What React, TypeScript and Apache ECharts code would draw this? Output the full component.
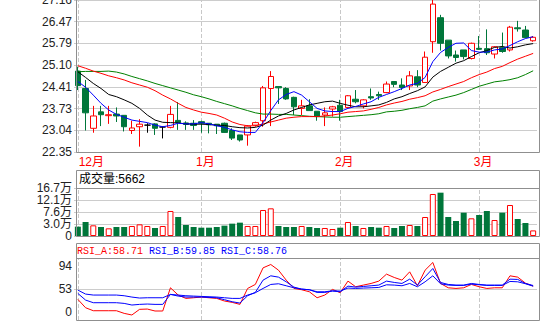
import React, { useEffect, useRef } from 'react';
import * as echarts from 'echarts';

// ---- data ----
const MONTH_STARTS = [0, 16, 34, 52];
const MONTH_LABELS = ['12月', '1月', '2月', '3月'];

const OPEN = [24.91,24.36,23.10,23.62,23.50,23.55,23.51,23.03,23.15,23.20,23.24,23.14,23.13,23.35,23.27,23.26,23.31,23.26,23.23,23.26,23.03,22.89,22.89,23.20,23.34,24.36,24.42,24.36,24.08,23.73,23.81,23.64,23.52,23.71,23.83,23.76,24.02,23.81,24.10,24.17,24.23,24.58,24.47,24.44,24.73,24.55,25.84,26.60,25.89,25.42,25.58,25.31,25.63,25.62,25.45,25.65,25.58,26.28,26.21,25.87];
const CLOSE = [24.45,23.59,23.49,23.53,23.53,23.49,23.15,23.11,23.23,23.20,23.10,23.14,23.54,23.28,23.22,23.19,23.26,23.21,23.18,22.97,22.79,22.73,23.17,23.28,24.38,24.74,24.38,24.03,23.78,23.81,23.66,23.47,23.59,23.78,23.63,24.13,23.94,24.00,24.06,24.13,24.50,24.49,24.39,24.76,24.47,25.35,27.03,25.79,25.39,25.34,25.37,25.79,25.60,25.49,25.68,25.53,26.30,26.25,25.97,25.98];
const LOW = [24.31,23.03,22.96,23.17,23.24,23.30,23.00,22.92,22.52,22.96,22.89,22.78,23.10,23.05,23.05,23.05,22.96,22.94,22.92,22.96,22.73,22.68,22.55,23.15,23.15,23.17,23.87,24.00,23.52,23.52,23.66,23.34,23.17,23.47,23.34,23.73,23.89,23.73,24.00,24.00,24.21,24.40,24.31,24.31,24.40,24.55,25.49,25.56,25.31,25.21,25.28,25.28,25.58,25.42,25.31,25.49,25.53,26.16,25.95,25.84];
const HIGH = [25.05,24.63,23.81,23.81,23.81,23.76,23.52,23.34,23.39,23.26,23.26,23.15,23.81,23.93,23.32,23.36,23.34,23.26,23.23,23.28,23.10,22.89,23.20,23.31,24.44,24.91,24.42,24.40,24.10,24.00,24.02,23.64,23.76,23.81,24.00,24.15,24.31,24.02,24.36,24.26,24.58,24.58,24.68,24.91,24.94,25.53,27.20,26.69,25.89,25.56,25.58,25.81,26.02,26.23,25.70,26.13,26.34,26.50,26.34,26.02];

const MA5 = [24.58,24.40,24.15,23.89,23.68,23.54,23.45,23.36,23.32,23.28,23.20,23.15,23.19,23.26,23.24,23.24,23.28,23.24,23.18,23.13,23.05,22.99,22.97,22.97,23.28,23.66,24.00,24.17,24.26,24.15,23.94,23.73,23.65,23.63,23.63,23.73,23.79,23.87,23.94,24.08,24.17,24.26,24.36,24.47,24.52,24.71,25.21,25.50,25.66,25.79,25.80,25.56,25.51,25.51,25.58,25.61,25.72,25.84,25.94,26.00];
const MA10 = [24.89,24.71,24.52,24.36,24.17,24.10,24.00,23.89,23.73,23.52,23.36,23.29,23.28,23.27,23.24,23.23,23.23,23.22,23.20,23.19,23.15,23.12,23.11,23.13,23.20,23.36,23.49,23.57,23.68,23.76,23.84,23.89,23.94,23.96,23.89,23.83,23.78,23.78,23.81,23.84,23.92,24.03,24.10,24.20,24.29,24.41,24.72,24.90,25.03,25.16,25.24,25.37,25.49,25.56,25.66,25.69,25.64,25.68,25.74,25.78];
const MA20 = [25.08,25.00,24.91,24.84,24.76,24.70,24.63,24.54,24.47,24.40,24.29,24.15,24.03,23.89,23.76,23.68,23.61,23.57,23.52,23.42,23.30,23.22,23.18,23.18,23.24,23.30,23.36,23.42,23.45,23.47,23.47,23.47,23.49,23.52,23.56,23.61,23.63,23.65,23.70,23.76,23.84,23.90,23.95,24.02,24.07,24.13,24.25,24.33,24.42,24.50,24.58,24.70,24.80,24.88,24.99,25.06,25.18,25.29,25.38,25.47];
const MA30 = [24.89,24.90,24.90,24.90,24.91,24.88,24.82,24.74,24.67,24.60,24.52,24.45,24.38,24.31,24.24,24.16,24.10,24.03,23.95,23.88,23.81,23.73,23.66,23.59,23.55,23.55,23.54,23.54,23.52,23.50,23.48,23.47,23.46,23.45,23.45,23.47,23.49,23.51,23.53,23.56,23.62,23.64,23.67,23.72,23.76,23.81,23.96,24.03,24.09,24.15,24.23,24.33,24.43,24.50,24.57,24.60,24.64,24.70,24.80,24.92];

const VOLUME = [19900,37600,24900,18600,13500,18600,18600,22400,28700,22400,14800,22400,79500,56600,26200,18600,16000,16000,18600,23700,31300,35100,22400,22400,83300,89600,22400,18600,18600,22400,18600,14800,14800,11000,16000,37600,22400,14800,18600,16000,22400,14800,22400,26200,22400,56600,144200,149200,56600,41400,73100,51600,64300,79500,45200,73100,102300,49000,33800,5662];

const RSI_A = [35.8,21.3,16.1,16.1,16.1,16.1,11.5,8.7,18.5,19.0,15.6,15.6,55.9,43.3,37.5,38.6,39.8,38.6,37.5,32.9,30.6,27.1,54.8,61.7,90.5,96.3,86.5,69.2,54.8,52.5,49.0,38.6,43.3,53.1,47.3,67.5,57.7,60.6,63.4,67.5,79.6,73.8,69.2,83.6,59.4,86.5,99.8,63.4,55.9,54.8,55.9,61.7,57.7,54.8,55.9,55.9,76.7,74.4,64.0,58.71];
const RSI_B = [46.1,34.6,30.0,30.0,30.0,30.0,28.8,26.0,27.1,27.7,27.1,27.1,44.4,41.5,39.8,39.8,39.8,39.2,38.6,35.2,31.7,29.4,42.1,47.9,69.2,76.7,74.4,66.3,57.1,53.6,52.5,47.9,47.9,50.2,49.0,58.8,57.1,58.2,59.4,60.6,67.5,65.2,63.4,70.9,60.6,75.0,89.4,65.2,61.7,60.6,60.6,63.4,61.7,60.6,60.6,60.6,70.9,70.4,63.4,59.85];
const RSI_C = [51.9,45.0,43.3,43.3,43.3,43.3,42.1,39.8,38.1,38.6,38.6,38.6,44.4,43.3,42.1,41.5,40.9,40.4,39.8,38.6,37.5,37.5,43.3,47.3,54.8,61.7,62.9,59.4,55.9,53.6,52.5,49.0,49.0,50.7,50.2,55.4,54.8,55.4,55.9,56.5,61.1,60.6,59.4,63.4,57.7,66.3,76.7,62.9,60.6,60.0,60.0,62.3,61.1,60.0,60.0,60.0,66.9,66.3,62.9,58.76];

const PRICE_MIN = 22.35;
const PRICE_MAX = 27.16;
const PRICE_TICKS = ['22.35', '23.04', '23.73', '24.41', '25.10', '25.79', '26.47', '27.16'];
const VOL_TOP = 167000;      // 16.7万 at the top of the volume panel
const VOL_FLOOR = 15670;     // the panel floor sits below zero
const RSI_LABELS = [0, 53, 94];
const RSI_MAX = 107.6;

const CATS = OPEN.map((_, i) => 'D' + (i + 1));

const UP = '#ff0000';
const DOWN = '#00763a';
const FRAME = '#8f8f8f';
const GRIDC = '#cccccc';
const LABEL_FONT = '"Liberation Sans", "Noto Sans CJK SC", sans-serif';

export default function App() {
  const ref = useRef<HTMLDivElement>(null);

  useEffect(() => {
    if (!ref.current) return;
    const chart = echarts.init(ref.current, null, { renderer: 'svg' });
    const priceStep = (PRICE_MAX - PRICE_MIN) / (PRICE_TICKS.length - 1);
    const volMax = VOL_TOP + VOL_FLOOR;

    const candleData = OPEN.map((o, i) => {
      const v = [o, CLOSE[i], LOW[i], HIGH[i]];
      if (o === CLOSE[i]) {
        return { value: v, itemStyle: { color: '#000', color0: '#000', borderColor: '#000', borderColor0: '#000' } };
      }
      return v;
    });

    const volData = VOLUME.map((v, i) => ({
      value: v + VOL_FLOOR,
      itemStyle: CLOSE[i] >= OPEN[i]
        ? { color: '#ffffff', borderColor: UP, borderWidth: 1 }
        : { color: DOWN, borderColor: DOWN, borderWidth: 0 },
    }));

    const monthMark = (extra: any[] = []) => ({
      silent: true,
      z: 1,
      symbol: ['none', 'none'],
      label: { show: false },
      emphasis: { disabled: true },
      lineStyle: { type: 'dashed', color: '#c8c8c8', width: 1 },
      data: [...MONTH_STARTS.map((i) => ({ xAxis: CATS[i] })), ...extra],
    });

    const hiddenX = (gi: number) => ({
      type: 'category', gridIndex: gi, data: CATS, boundaryGap: true,
      axisLine: { show: false }, axisTick: { show: false }, axisLabel: { show: false }, splitLine: { show: false },
    });

    const labelBase = { color: '#222', fontSize: 12, fontFamily: LABEL_FONT, margin: 2 };

    const option: any = {
      animation: false,
      backgroundColor: '#ffffff',
      grid: [
        { left: 74, top: 0, width: 463, height: 152, containLabel: false, outerBoundsMode: 'none' },
        { left: 74, top: 188, width: 463, height: 48, containLabel: false, outerBoundsMode: 'none' },
        { left: 74, top: 258, width: 463, height: 62, containLabel: false, outerBoundsMode: 'none' },
      ],
      xAxis: [
        {
          type: 'category', gridIndex: 0, data: CATS, boundaryGap: true,
          axisLine: { show: false }, axisTick: { show: false }, splitLine: { show: false },
          axisLabel: {
            interval: (idx: number) => MONTH_STARTS.includes(idx),
            margin: 4,
            formatter: (_v: string, idx: number) => {
              const k = MONTH_STARTS.indexOf(idx);
              if (k < 0) return '';
              return k === 0 ? `{first|${MONTH_LABELS[k]}}` : `{m|${MONTH_LABELS[k]}}`;
            },
            rich: {
              first: { color: UP, fontSize: 12, fontFamily: LABEL_FONT, padding: [0, 0, 0, 27] },
              m: { color: UP, fontSize: 12, fontFamily: LABEL_FONT, padding: [0, 0, 0, 8] },
            },
          },
        },
        hiddenX(1),
        hiddenX(2),
      ],
      yAxis: [
        {
          type: 'value', gridIndex: 0, min: PRICE_MIN, max: PRICE_MAX, interval: priceStep,
          axisLine: { show: false }, axisTick: { show: false },
          splitLine: { show: true, lineStyle: { color: GRIDC, width: 1 } },
          axisLabel: {
            ...labelBase,
            formatter: (v: number) => PRICE_TICKS[Math.round((v - PRICE_MIN) / priceStep)] ?? '',
          },
        },
        {
          type: 'value', gridIndex: 1, min: 0, max: volMax, interval: volMax / 4,
          axisLine: { show: false }, axisTick: { show: false },
          splitLine: { show: true, lineStyle: { color: GRIDC, width: 1 } },
          axisLabel: {
            ...labelBase,
            lineHeight: 11,
            formatter: (v: number) => {
              const real = v - VOL_FLOOR;
              return real <= 0 ? '0' : (real / 10000).toFixed(1) + '万';
            },
          },
        },
        {
          type: 'value', gridIndex: 2, min: 0, max: RSI_MAX,
          axisLine: { show: false }, axisTick: { show: false },
          splitLine: { show: false },
          axisLabel: {
            ...labelBase,
            customValues: RSI_LABELS,
            formatter: (v: number) => (v === 0 ? '{z|0}' : String(v)),
            rich: { z: { color: '#222', fontSize: 12, fontFamily: LABEL_FONT, padding: [0, 0, 16, 0] } },
          },
        },
      ],
      series: [
        {
          type: 'candlestick', xAxisIndex: 0, yAxisIndex: 0, data: candleData, barWidth: 6,
          itemStyle: { color: '#ffffff', color0: DOWN, borderColor: UP, borderColor0: DOWN, borderColorDoji: '#000', borderWidth: 1 },
          markLine: monthMark(),
        },
        { type: 'line', xAxisIndex: 0, yAxisIndex: 0, data: MA30, showSymbol: false, symbol: 'none', lineStyle: { color: '#008000', width: 1 }, z: 3 },
        { type: 'line', xAxisIndex: 0, yAxisIndex: 0, data: MA20, showSymbol: false, symbol: 'none', lineStyle: { color: '#ff0000', width: 1 }, z: 3 },
        { type: 'line', xAxisIndex: 0, yAxisIndex: 0, data: MA10, showSymbol: false, symbol: 'none', lineStyle: { color: '#000000', width: 1 }, z: 3 },
        { type: 'line', xAxisIndex: 0, yAxisIndex: 0, data: MA5, showSymbol: false, symbol: 'none', lineStyle: { color: '#0000ff', width: 1 }, z: 3 },
        {
          type: 'bar', xAxisIndex: 1, yAxisIndex: 1, data: volData, barWidth: 6,
          markLine: monthMark(),
        },
        {
          type: 'line', xAxisIndex: 2, yAxisIndex: 2, data: RSI_A, showSymbol: false, symbol: 'none',
          lineStyle: { color: '#ff0000', width: 1 }, z: 3,
          markLine: monthMark([{ yAxis: 53, lineStyle: { type: 'solid', color: GRIDC, width: 1 } }]),
        },
        { type: 'line', xAxisIndex: 2, yAxisIndex: 2, data: RSI_B, showSymbol: false, symbol: 'none', lineStyle: { color: '#0000ff', width: 1 }, z: 3 },
        { type: 'line', xAxisIndex: 2, yAxisIndex: 2, data: RSI_C, showSymbol: false, symbol: 'none', lineStyle: { color: '#0000ff', width: 1 }, z: 3 },
      ],
      graphic: [
        { type: 'rect', silent: true, z: 100, shape: { x: 76.5, y: -2, width: 463, height: 154.5 }, style: { fill: 'none', stroke: FRAME, lineWidth: 1 } },
        { type: 'rect', silent: true, z: 100, shape: { x: 76.5, y: 170.5, width: 463, height: 66 }, style: { fill: 'none', stroke: FRAME, lineWidth: 1 } },
        { type: 'line', silent: true, z: 100, shape: { x1: 76.5, y1: 188.5, x2: 539.5, y2: 188.5 }, style: { stroke: FRAME, lineWidth: 1 } },
        { type: 'text', silent: true, z: 100, x: 79, y: 179, style: { text: `成交量:${VOLUME[VOLUME.length - 1]}`, fill: '#000', font: `12px ${LABEL_FONT}`, verticalAlign: 'middle', align: 'left' } },
        { type: 'rect', silent: true, z: 100, shape: { x: 76.5, y: 243.5, width: 463, height: 77 }, style: { fill: 'none', stroke: FRAME, lineWidth: 1 } },
        { type: 'line', silent: true, z: 100, shape: { x1: 76.5, y1: 258.5, x2: 539.5, y2: 258.5 }, style: { stroke: FRAME, lineWidth: 1 } },
        { type: 'text', silent: true, z: 100, x: 77, y: 251, style: { text: `RSI_A:${RSI_A[RSI_A.length - 1].toFixed(2)}`, fill: '#ff0000', font: '10px "Liberation Mono", monospace', verticalAlign: 'middle', align: 'left' } },
        { type: 'text', silent: true, z: 100, x: 149, y: 251, style: { text: `RSI_B:${RSI_B[RSI_B.length - 1].toFixed(2)}`, fill: '#0000ff', font: '10px "Liberation Mono", monospace', verticalAlign: 'middle', align: 'left' } },
        { type: 'text', silent: true, z: 100, x: 221, y: 251, style: { text: `RSI_C:${RSI_C[RSI_C.length - 1].toFixed(2)}`, fill: '#0000ff', font: '10px "Liberation Mono", monospace', verticalAlign: 'middle', align: 'left' } },
      ],
    };

    chart.setOption(option);
    return () => chart.dispose();
  }, []);

  return (
    <div
      ref={ref}
      style={{ position: 'absolute', left: 0, top: 0, width: 551, height: 331, background: '#fff' }}
    />
  );
}
